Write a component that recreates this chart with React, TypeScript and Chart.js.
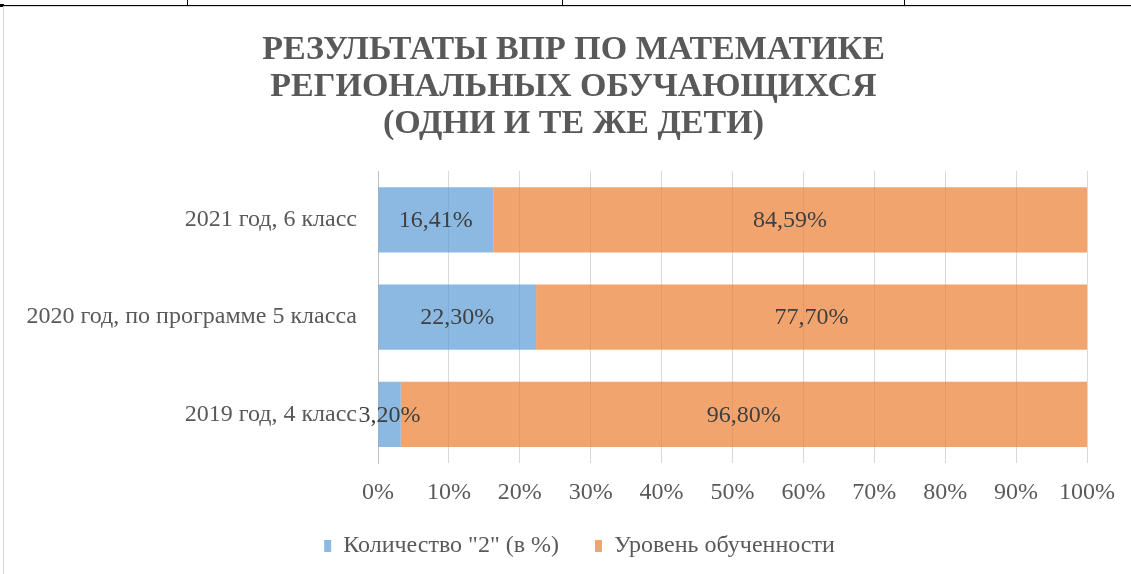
import React, { useEffect, useRef } from "react";
import { Chart, registerables } from "chart.js";

Chart.register(...registerables);

const categories = ["2021 год, 6 класс", "2020 год, по программе 5 класса", "2019 год, 4 класс"];
const failShare = [16.41, 22.3, 3.2];
const learnLevel = [84.59, 77.7, 96.8];
const seriesNames = ['Количество "2" (в %)', "Уровень обученности"];
const xTickValues = [0, 10, 20, 30, 40, 50, 60, 70, 80, 90, 100];
const titleLines = ["РЕЗУЛЬТАТЫ ВПР ПО МАТЕМАТИКЕ", "РЕГИОНАЛЬНЫХ ОБУЧАЮЩИХСЯ", "(ОДНИ И ТЕ ЖЕ ДЕТИ)"];

const FONT = "'Liberation Serif', 'Times New Roman', serif";
const TEXT = "#595959";

const fmt = (v: number) => v.toFixed(2).replace(".", ",") + "%";

const labelPlugin = {
  id: "segLabels",
  afterLayout(chart: any) {
    const lg = chart.legend;
    if (lg) {
      lg.left += 6;
      lg.right += 6;
      lg.top -= 10;
      lg.bottom -= 10;
    }
  },
  afterDatasetsDraw(chart: any) {
    const ctx = chart.ctx;
    ctx.save();
    ctx.font = `24px ${FONT}`;
    ctx.fillStyle = "#404040";
    ctx.textAlign = "center";
    ctx.textBaseline = "middle";
    chart.data.datasets.forEach((ds: any, di: number) => {
      const meta = chart.getDatasetMeta(di);
      meta.data.forEach((bar: any, i: number) => {
        const raw = ds.rawValues[i];
        const cx = (bar.x + bar.base) / 2;
        ctx.fillText(fmt(raw), cx, bar.y + 1);
      });
    });
    ctx.restore();
  },
};

export default function App() {
  const ref = useRef<HTMLCanvasElement | null>(null);

  useEffect(() => {
    document.body.style.margin = "0";
    document.body.style.overflow = "hidden";
    const totals = failShare.map((v, i) => v + learnLevel[i]);
    const chart = new Chart(ref.current as HTMLCanvasElement, {
      type: "bar",
      data: {
        labels: categories,
        datasets: [
          {
            label: seriesNames[0],
            data: failShare.map((v, i) => (v / totals[i]) * 100),
            rawValues: failShare,
            backgroundColor: "rgba(91,155,213,0.7)",
            borderWidth: 0,
            categoryPercentage: 1,
            barPercentage: 0.67,
          } as any,
          {
            label: seriesNames[1],
            data: learnLevel.map((v, i) => (v / totals[i]) * 100),
            rawValues: learnLevel,
            backgroundColor: "rgba(237,125,49,0.7)",
            borderWidth: 0,
            categoryPercentage: 1,
            barPercentage: 0.67,
          } as any,
        ],
      },
      options: {
        indexAxis: "y",
        responsive: false,
        animation: false,
        layout: { padding: { left: 0, right: 0, top: 0, bottom: 6 } },
        scales: {
          x: {
            stacked: true,
            min: 0,
            max: 100,
            afterBuildTicks: (scale: any) => {
              scale.ticks = xTickValues.map((v) => ({ value: v }));
            },
            afterFit: (scale: any) => {
              scale.height = 45;
              scale.paddingLeft = 0;
              scale.paddingRight = 56;
            },
            grid: { color: "#D9D9D9", drawTicks: false, lineWidth: 1 },
            border: { display: false },
            ticks: {
              padding: 15,
              color: TEXT,
              font: { family: FONT, size: 24 },
              maxRotation: 0,
              callback: (v: any) => v + "%",
            },
          },
          y: {
            stacked: true,
            afterFit: (scale: any) => {
              scale.width = 374;
            },
            grid: { display: false, drawTicks: false },
            border: { display: true, color: "#BFBFBF", width: 1 },
            ticks: {
              padding: 21,
              color: TEXT,
              font: { family: FONT, size: 24 },
            },
          },
        },
        plugins: {
          title: {
            display: true,
            text: titleLines,
            color: TEXT,
            font: { family: FONT, size: 34, weight: "bold", lineHeight: 1.09 },
            padding: { top: 26, bottom: 28 },
          },
          legend: {
            position: "bottom",
            labels: {
              color: TEXT,
              font: { family: FONT, size: 24 },
              boxWidth: 7,
              boxHeight: 12,
              padding: 36,
            },
          },
          tooltip: { enabled: false },
        },
      },
      plugins: [labelPlugin],
    } as any);
    return () => chart.destroy();
  }, []);

  return (
    <div style={{ position: "fixed", left: 0, top: 0, width: 1131, height: 574, background: "#fff", overflow: "hidden" }}>
      <div style={{ position: "absolute", left: 0, top: 5, width: 1131, height: 1, background: "#000" }} />
      <div style={{ position: "absolute", left: 0, top: 4, width: 4, height: 3, background: "#000" }} />
      <div style={{ position: "absolute", left: 187, top: 0, width: 1, height: 5, background: "#000" }} />
      <div style={{ position: "absolute", left: 562, top: 0, width: 1, height: 5, background: "#000" }} />
      <div style={{ position: "absolute", left: 904, top: 0, width: 1, height: 5, background: "#000" }} />
      <div style={{ position: "absolute", left: 3, top: 6, width: 1200, height: 600, border: "1px solid #D9D9D9", boxSizing: "border-box" }} />
      <canvas ref={ref} width={1139} height={578} style={{ position: "absolute", left: 4, top: 6, width: 1139, height: 578 }} />
    </div>
  );
}
